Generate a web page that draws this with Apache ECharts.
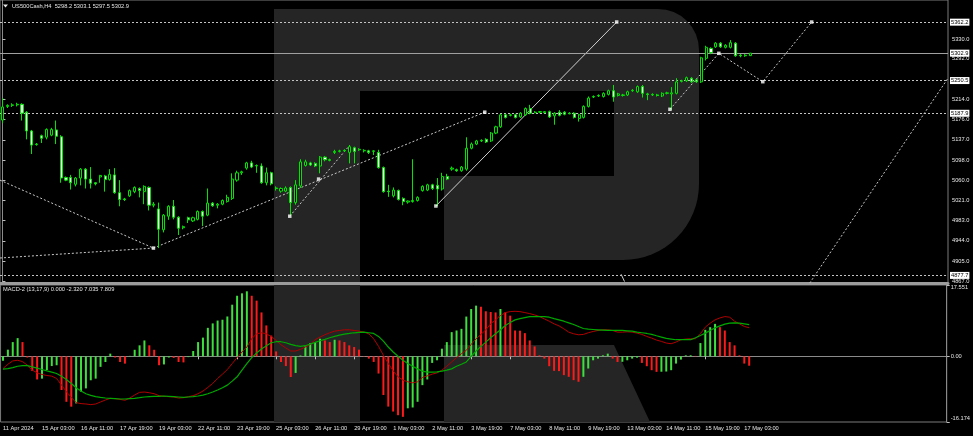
<!DOCTYPE html>
<html><head><meta charset="utf-8">
<script src="https://cdn.jsdelivr.net/npm/echarts@6/dist/echarts.min.js"></script>
<style>html,body{margin:0;padding:0;background:#000;}#c{width:973px;height:436px;}</style>
</head><body><div id="c"></div>
<script>
// ---------- data ----------
const timeLabels = ['11 Apr 2024','15 Apr 03:00','16 Apr 11:00','17 Apr 19:00','19 Apr 03:00','22 Apr 11:00','23 Apr 19:00','25 Apr 03:00','26 Apr 11:00','29 Apr 19:00','1 May 03:00','2 May 11:00','3 May 19:00','7 May 03:00','8 May 11:00','9 May 19:00','13 May 03:00','14 May 11:00','15 May 19:00','17 May 03:00'];
// [open, close, low, high]
const candles = [
[5175,5200,5169,5217],[5201,5203,5198,5205],[5203,5204,5200,5207],[5204,5205,5201,5208],[5205,5188,5174,5207],
[5190,5154,5138,5192],[5154,5127,5110,5156],[5128,5129,5126,5131],[5145,5140,5131,5147],[5142,5157,5138,5159],
[5146,5157,5144,5160],[5156,5144,5129,5174],[5143,5064,5055,5146],[5065,5060,5058,5067],[5065,5055,5042,5070],
[5052,5064,5048,5066],[5064,5081,5050,5083],[5081,5062,5044,5083],[5062,5054,5044,5085],[5055,5053,5050,5056],
[5066,5069,5055,5070],[5068,5061,5038,5070],[5061,5071,5059,5081],[5070,5036,5034,5083],[5036,5023,5010,5060],
[5024,5023,5020,5026],[5030,5040,5028,5042],[5038,5046,5035,5048],[5044,5040,5027,5046],[5038,5048,5014,5050],
[5046,5012,5002,5048],[5012,5014,5008,5018],[5005,4966,4930,5017],[4965,4993,4960,4995],[4991,5010,4984,5012],
[5010,4989,4985,5022],[4989,4968,4955,4991],[4969,4971,4966,4973],[4988,4984,4978,4990],[4982,4988,4980,4990],
[4985,5000,4983,5002],[5000,4991,4972,5002],[4993,5016,4991,5044],[5016,5011,5009,5018],[5012,5014,5006,5016],
[5014,5021,5012,5023],[5019,5027,5017,5032],[5025,5062,5022,5073],[5060,5074,5057,5078],[5074,5076,5070,5078],
[5083,5093,5080,5095],[5093,5085,5083,5097],[5087,5088,5074,5090],[5087,5055,5053,5092],[5055,5074,5050,5084],
[5074,5053,5050,5076],[5045,5044,5040,5048],[5039,5044,5036,5046],[5039,5045,5037,5048],[5046,5017,4991,5048],
[5017,5051,5013,5060],[5049,5095,5045,5100],[5088,5095,5086,5099],[5093,5089,5087,5095],[5092,5087,5085,5094],
[5087,5104,5073,5106],[5104,5099,5096,5106],[5099,5098,5096,5101],[5113,5115,5110,5118],[5115,5116,5113,5118],
[5116,5117,5114,5119],[5113,5124,5092,5127],[5122,5115,5092,5124],[5118,5119,5116,5121],[5116,5117,5113,5119],
[5116,5113,5110,5118],[5115,5116,5108,5117],[5113,5084,5082,5118],[5084,5038,5036,5086],[5039,5038,5028,5051],
[5030,5041,5027,5046],[5040,5023,5021,5042],[5025,5019,5012,5027],[5018,5020,5015,5021],[5019,5021,5017,5100],
[5021,5027,5019,5029],[5040,5048,5038,5050],[5041,5051,5039,5053],[5051,5044,5041,5053],[5050,5043,5010,5064],
[5043,5067,5040,5074],[5067,5062,5060,5072],[5081,5083,5078,5086],[5080,5078,5076,5082],[5078,5085,5076,5087],
[5081,5121,5078,5142],[5121,5129,5119,5132],[5129,5135,5127,5137],[5135,5136,5133,5138],[5138,5133,5131,5140],
[5135,5150,5133,5152],[5150,5162,5148,5164],[5162,5185,5160,5187],[5185,5180,5178,5187],[5184,5185,5182,5187],
[5185,5180,5178,5187],[5181,5188,5179,5190],[5185,5197,5183,5199],[5197,5188,5186,5204],[5189,5190,5188,5192],
[5190,5191,5188,5192],[5189,5191,5188,5192],[5191,5181,5179,5193],[5183,5188,5166,5190],[5190,5184,5182,5194],
[5190,5186,5184,5192],[5187,5188,5186,5190],[5188,5180,5178,5190],[5178,5185,5172,5187],[5180,5201,5178,5203],
[5201,5217,5199,5220],[5219,5220,5217,5222],[5221,5222,5219,5224],[5220,5226,5218,5228],[5224,5231,5222,5233],
[5231,5219,5210,5242],[5222,5225,5220,5227],[5222,5223,5220,5225],[5223,5229,5221,5231],[5231,5232,5229,5234],
[5229,5239,5227,5241],[5239,5226,5218,5242],[5225,5224,5213,5227],[5223,5224,5221,5226],[5223,5222,5220,5225],
[5221,5226,5219,5228],[5226,5227,5224,5229],[5225,5227,5194,5238],[5226,5248,5224,5255],[5249,5250,5247,5252],
[5250,5256,5248,5258],[5255,5248,5246,5257],[5252,5248,5246,5254],[5248,5294,5246,5296],[5293,5314,5289,5317],
[5312,5304,5301,5314],[5315,5322,5313,5324],[5322,5315,5313,5324],[5314,5318,5312,5320],[5314,5323,5312,5328],
[5322,5298,5296,5324],[5299,5298,5295,5301],[5298,5299,5296,5301],[5298.2,5302.9,5297.5,5303.1]
];
const macdHist = [
-1.1,1.63,3.5,4.48,3.5,-0.3,-3.6,-5.7,-5.5,-3.4,
-2.4,-2.2,-8.3,-11.2,-12.4,-11.6,-8.7,-7.9,-5.9,-5.5,
-2.6,-1.4,0.65,-0.3,-1.4,-1.8,0.1,1.6,2.7,3.9,
2.7,1.6,-2.2,-2.0,-0.3,-0.4,-1.4,-1.5,-0.2,1.3,
3.5,4.6,7.0,8.1,8.8,9.0,9.8,12.7,14.9,15.5,
16.0,14.9,13.7,10.8,7.6,5.1,1.2,-1.4,-2.4,-5.1,
-4.1,0.2,2.44,3.26,3.5,4.32,3.91,3.5,4.07,3.91,
3.5,2.69,2.28,1.63,-0.1,-0.57,-1.39,-4.24,-9.53,-12.38,
-13.6,-14.5,-14.9,-12.8,-12.6,-11.2,-7.1,-5.7,-1.63,-0.98,
1.87,3.5,5.95,6.35,6.76,9.78,11.65,12.47,12.2,11.08,
10.9,10.8,11.65,10.84,10.0,6.35,6.3,5.7,3.9,2.44,
0.24,-0.57,-2.44,-3.58,-3.65,-4.64,-5.05,-5.87,-6.27,-5.05,
-3.01,-0.98,-0.57,0.24,0.65,-0.57,-1.39,-1.35,-0.98,-0.57,
-0.33,-1.63,-2.44,-3.42,-3.83,-3.8,-3.75,-3.42,-1.79,-0.81,
0.24,0.26,0.1,3.26,6.52,7.17,7.98,7.17,6.35,3.5,
2.69,0.24,-1.79,-2.32
];
const macdMain = [
-3.02,-1.96,-1.14,-0.98,-1.30,-2.20,-3.42,-4.08,-4.48,-4.73,
-4.89,-5.46,-7.09,-8.72,-10.11,-11.41,-11.65,-11.74,-11.90,-11.74,
-11.25,-10.76,-10.35,-10.43,-10.60,-10.84,-10.27,-9.54,-8.88,-8.80,
-8.97,-9.21,-9.70,-9.86,-9.94,-10.02,-10.27,-10.19,-9.94,-9.70,
-9.21,-8.56,-7.66,-6.68,-5.46,-4.40,-3.26,-1.79,-0.33,1.06,
2.28,4.32,5.54,5.79,5.54,4.89,3.91,2.85,2.04,1.30,
1.30,1.71,2.28,2.93,4.08,4.73,5.30,5.79,6.19,6.36,
6.52,6.52,6.36,6.19,5.95,5.54,4.32,2.45,0.24,-1.79,
-3.59,-5.05,-5.87,-6.28,-6.52,-6.28,-5.22,-4.81,-4.40,-4.08,
-3.42,-2.45,-1.39,-0.33,0.65,1.47,2.93,4.32,5.38,6.52,
7.99,8.97,10.02,10.76,11.00,11.08,11.00,10.76,10.51,10.19,
9.78,9.21,8.64,7.99,7.50,6.76,5.95,5.54,5.30,5.38,
5.79,6.11,6.36,6.52,6.52,6.36,5.95,5.95,6.03,5.95,
5.71,5.38,4.89,4.48,3.99,3.67,3.26,3.10,3.50,4.08,
4.24,4.32,4.32,5.54,7.17,8.15,8.97,9.45,9.78,9.62,
8.64,7.99,7.34,7.035
];
const macdSignal = [
-3.18,-3.02,-2.77,-2.45,-2.28,-2.28,-2.61,-2.93,-3.26,-3.59,
-3.91,-4.24,-4.89,-5.71,-6.68,-7.74,-8.56,-9.21,-9.62,-9.94,
-10.11,-10.27,-10.35,-10.43,-10.51,-10.51,-10.43,-10.35,-10.19,-10.02,
-9.94,-9.86,-9.86,-9.78,-9.86,-9.94,-10.02,-10.11,-10.02,-9.94,
-9.78,-9.54,-9.21,-8.80,-8.31,-7.74,-7.09,-6.11,-5.05,-3.42,
-1.79,-0.33,0.82,1.79,2.61,3.34,3.59,3.59,3.34,2.93,
2.61,2.45,2.61,3.02,3.42,3.83,4.16,4.56,4.89,5.22,
5.46,5.62,5.79,5.87,5.95,5.79,5.62,4.89,3.75,2.28,
1.06,0.00,-0.98,-1.79,-2.45,-3.10,-3.67,-3.91,-3.91,-3.83,
-3.67,-3.42,-3.10,-2.45,-1.96,-1.39,0.00,1.30,2.45,3.50,
4.56,5.54,6.52,7.58,8.31,8.97,9.29,9.54,9.78,9.78,
9.78,9.78,9.62,9.29,8.97,8.64,8.23,7.82,7.34,6.85,
6.68,6.60,6.52,6.44,6.36,6.36,6.36,6.36,6.28,6.19,
5.95,5.79,5.62,5.38,5.05,4.73,4.40,4.24,4.08,4.08,
4.08,4.08,4.56,5.13,5.71,6.36,7.01,7.50,7.91,8.15,
8.23,8.15,7.99,7.809
];
const priceTicks = [5330.0,5292.0,5214.0,5176.0,5137.0,5098.0,5060.0,5021.0,4983.0,4944.0,4905.0,4867.0];
const macdTicks = [17.551, 0, -16.174];
const levelLines = [5362.2, 5250.5, 5187.9, 4877.7];
const bidPrice = 5302.9;
// analysis drawings, as [bar index, price]
const waveDotted = [
  [[-0.5,5060],[30.9,4930]],
  [[-0.5,4911],[30.9,4930]],
  [[30.9,4930],[98.7,5190]],
  [[58.8,4991],[71.1,5127]],
  [[136.6,5195.5],[146.6,5302.6],[155.6,5248.3],[165.6,5362.5]],
  [[165.2,4863],[193.5,5255]]
];
const waveSolid = [
  [[88.7,5010.5],[125.7,5362.5]],
  [[126.6,4880],[127.3,4866]]
];
const waveMarks = [[30.9,4930],[98.7,5190],[58.8,4991],[64.7,5062],[88.7,5010.5],[125.7,5362.5],[136.6,5195.5],[146.6,5302.6],[155.6,5248.3],[165.6,5362.5]];
const SLOTS = 194;

// ---------- chart ----------
const chart = echarts.init(document.getElementById('c'), null, {renderer:'canvas'});
const cats = Array.from({length:SLOTS}, (_, i) => String(i));
const FONT = 'Liberation Sans, Arial, sans-serif';
const lbl = {fontFamily:FONT, fontSize:5.7, color:'#e6e6e6'};
const WM = '#252525';
const showIdx = (i) => i % 8 === 0 && i <= 152;

const series = [];
series.push({
  type:'candlestick', xAxisIndex:0, yAxisIndex:0, data:candles, barWidth:2.6, z:5,
  itemStyle:{color:'#000000', color0:'#ffffff', borderColor:'#00e600', borderColor0:'#00e600', borderColorDoji:'#00e600', borderWidth:1},
  markLine:{silent:true, symbol:['none','none'], animation:false, precision:1,
    label:{show:true, position:'end', distance:2, formatter:p => Number(p.value).toFixed(1), backgroundColor:'#ffffff', color:'#000000', padding:[1,1,0,1], fontFamily:FONT, fontSize:5.7},
    data: levelLines.map(v => ({yAxis:v, lineStyle:{type:[2,2], color:'#c4c4c4', width:1}}))
          .concat([{yAxis:bidPrice, lineStyle:{type:'solid', color:'#a0a0a0', width:1}}])
  }
});
waveDotted.forEach(pts => series.push({
  type:'line', xAxisIndex:2, yAxisIndex:0, data:pts, symbol:'none', silent:true, z:4,
  lineStyle:{type:[2,2], color:'#c8c8c8', width:1}
}));
waveSolid.forEach(pts => series.push({
  type:'line', xAxisIndex:2, yAxisIndex:0, data:pts, symbol:'none', silent:true, z:4,
  lineStyle:{type:'solid', color:'#cfcfcf', width:1}
}));
series.push({type:'scatter', xAxisIndex:2, yAxisIndex:0, data:waveMarks, symbol:'rect', symbolSize:3.5, silent:true, z:6,
  itemStyle:{color:'#ffffff'}});
series.push({type:'bar', xAxisIndex:1, yAxisIndex:1, data:macdHist, barWidth:2, silent:true,
  itemStyle:{color:p => (p.dataIndex > 0 && p.value < macdHist[p.dataIndex-1]) ? '#ff1a1a' : '#3ee03e'}});
series.push({type:'line', xAxisIndex:1, yAxisIndex:1, data:macdMain, symbol:'none', silent:true, z:5,
  lineStyle:{color:'#b00000', width:1}});
series.push({type:'line', xAxisIndex:1, yAxisIndex:1, data:macdSignal, symbol:'none', silent:true, z:5,
  lineStyle:{color:'#00a800', width:1.2}});

const option = {
  animation:false, backgroundColor:'#000000',
  grid:[
    {left:0, right:25, top:0, height:283, show:true, borderColor:'#7a7a7a', borderWidth:1, backgroundColor:'transparent'},
    {left:0, right:25, top:285, height:137, show:true, borderColor:'#7a7a7a', borderWidth:1, backgroundColor:'transparent'}
  ],
  xAxis:[
    {type:'category', gridIndex:0, data:cats, boundaryGap:true,
     axisLine:{show:true, lineStyle:{color:'#9c9c9c', width:3}}, axisTick:{show:false}, axisLabel:{show:false}, splitLine:{show:false}},
    {type:'category', gridIndex:1, data:cats, boundaryGap:true,
     axisLine:{show:true, lineStyle:{color:'#8a8a8a', width:1}},
     axisTick:{show:true, alignWithLabel:true, interval:showIdx, length:3, lineStyle:{color:'#bdbdbd'}},
     axisLabel:{show:true, interval:showIdx, formatter:(v) => timeLabels[Number(v)/8] || '', align:'left', margin:3, ...lbl},
     splitLine:{show:false}},
    {type:'value', gridIndex:0, min:-0.5, max:SLOTS-0.5, show:false}
  ],
  yAxis:[
    {type:'value', gridIndex:0, position:'right', min:4863.2, max:5404.6, splitLine:{show:false},
     axisLine:{show:true, lineStyle:{color:'#8a8a8a'}},
     axisTick:{show:true, customValues:priceTicks, length:3, lineStyle:{color:'#bdbdbd'}},
     axisLabel:{show:true, customValues:priceTicks, formatter:v => Number(v).toFixed(1), margin:4, ...lbl}},
    {type:'value', gridIndex:1, position:'right', min:-16.174, max:17.551, splitLine:{show:false},
     axisLine:{show:true, lineStyle:{color:'#8a8a8a'}},
     axisTick:{show:true, customValues:macdTicks, length:3, lineStyle:{color:'#bdbdbd'}},
     axisLabel:{show:true, customValues:macdTicks, margin:4, ...lbl,
       formatter:v => v > 0 ? '{t|' + v + '}' : (v < 0 ? '{b|' + v + '}' : '0.00'),
       rich:{t:{padding:[5,0,0,0], fontFamily:FONT, fontSize:5.7, color:'#e6e6e6'},
             b:{padding:[0,0,7,0], fontFamily:FONT, fontSize:5.7, color:'#e6e6e6'}}}}
  ],
  graphic:[
    // watermark "R"
    {type:'rect', z:0, silent:true, shape:{x:274, y:9, width:425, height:251, r:[0,41,76,0]}, style:{fill:WM}},
    {type:'rect', z:0, silent:true, shape:{x:274, y:9, width:86, height:274}, style:{fill:WM}},
    {type:'rect', z:0, silent:true, shape:{x:360, y:91, width:254, height:85}, style:{fill:'#000'}},
    {type:'rect', z:0, silent:true, shape:{x:360, y:176, width:84, height:84}, style:{fill:'#000'}},
    {type:'rect', z:0, silent:true, shape:{x:274, y:285, width:86, height:137}, style:{fill:WM}},
    {type:'polygon', z:0, silent:true, shape:{points:[[444,345],[614,345],[650,422],[444,422]]}, style:{fill:WM}},
    // headers
    {type:'polygon', z:10, silent:true, shape:{points:[[3,4.5],[8,4.5],[5.5,7.5]]}, style:{fill:'#e6e6e6'}},
    {type:'text', z:10, silent:true, x:12, y:6.5, style:{text:'US500Cash,H4  5298.2 5303.1 5297.5 5302.9', fill:'#e6e6e6', font:'5.7px ' + FONT, textVerticalAlign:'middle'}},
    {type:'text', z:10, silent:true, x:3, y:289, style:{text:'MACD-2 (13,17,9) 0.000 -2.320 7.035 7.809', fill:'#e6e6e6', font:'5.7px ' + FONT, textVerticalAlign:'middle'}}
  ],
  series
};
chart.setOption(option);
</script>
</body></html>
